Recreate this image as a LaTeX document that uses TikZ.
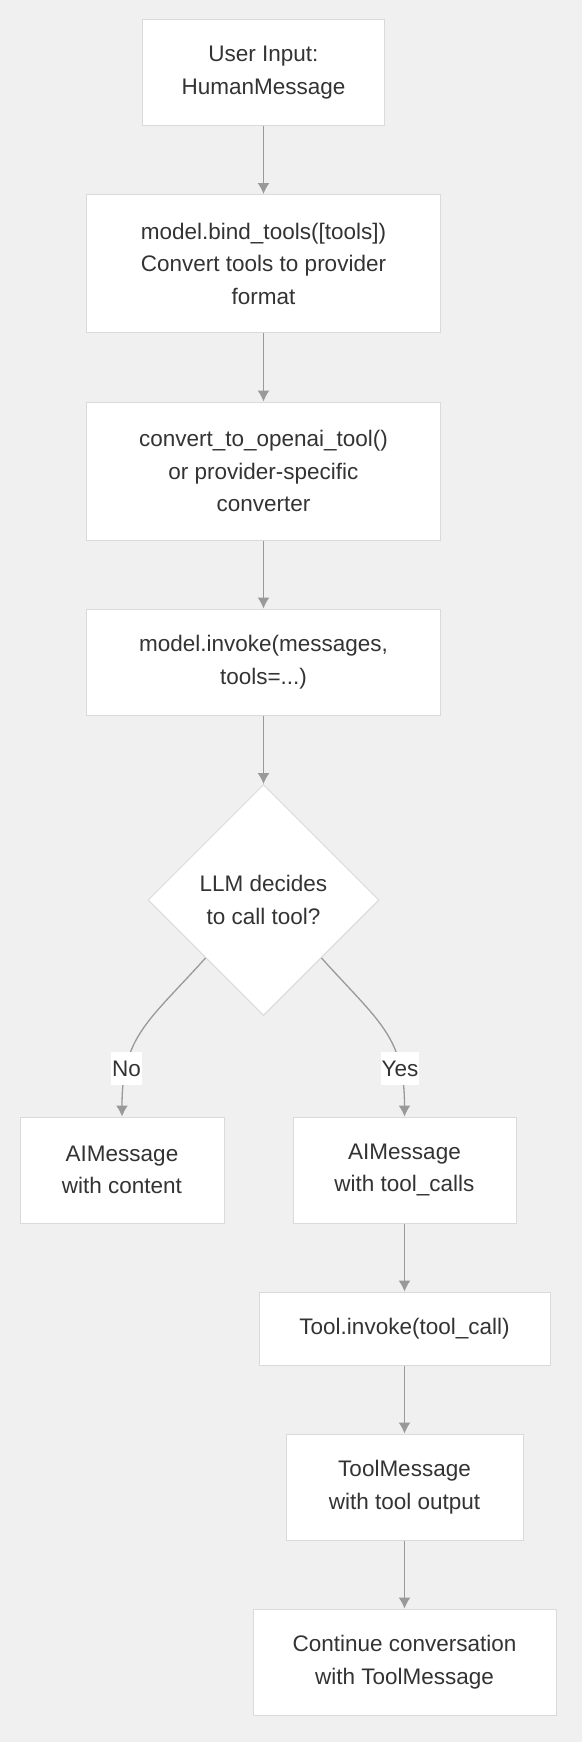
\documentclass[tikz,border=0pt]{standalone}
\usepackage{fontspec}
\setmainfont{Liberation Sans}
\usetikzlibrary{arrows.meta}
\usetikzlibrary{shapes.geometric}
\definecolor{bgcol}{RGB}{240,240,240}
\definecolor{boxline}{RGB}{218,218,218}
\definecolor{flowcol}{RGB}{153,153,153}
\definecolor{txtcol}{RGB}{51,51,51}
\tikzset{basic/.style={draw=boxline,fill=white,line width=1pt,text=txtcol,
                       align=center,inner sep=0pt,font=\fontsize{22.5}{32.5}\selectfont}}
\tikzset{stepbox/.style={basic,rectangle}}
\tikzset{choice/.style={basic,diamond,minimum width=231pt,minimum height=231pt}}

\begin{document}
\begin{tikzpicture}[x=1pt,y=-1pt]
  \useasboundingbox[fill=bgcol] (0,0) rectangle (582,1742);

  \tikzstyle{flow}=[draw=flowcol, line width=1.3pt, -{Latex[length=11pt,width=12pt]}];
  \tikzstyle{answer}=[fill=white, text=txtcol, inner xsep=1pt, inner ysep=0pt, minimum height=33pt, font=\fontsize{22.5}{32.5}\selectfont];

  \node (user_input) at (263.5, 72.5) [stepbox, minimum width=242pt, minimum height=106pt]{User Input:\\HumanMessage};
  \node (bind_tools) at (263.5, 263.5) [stepbox, minimum width=354pt, minimum height=138pt]{model.bind\_tools([tools])\\Convert tools to provider\\format};
  \node (convert_tools) at (263.5, 471) [stepbox, minimum width=354pt, minimum height=138pt]{convert\_to\_openai\_tool()\\or provider-specific\\converter};
  \node (invoke_model) at (263.5, 662) [stepbox, minimum width=354pt, minimum height=106pt]{model.invoke(messages,\\tools=...)};

  \node (decision) at (263.5, 900) [choice]{LLM decides\\to call tool?};

  \node (plain_reply) at (122, 1170) [stepbox, minimum width=204pt, minimum height=106pt]{AIMessage\\with content};
  \node (tool_reply) at (404.5, 1170) [stepbox, minimum width=223pt, minimum height=106pt]{AIMessage\\with tool\_calls};
  \node (tool_invoke) at (404.5, 1328.5) [stepbox, minimum width=291pt, minimum height=73pt]{Tool.invoke(tool\_call)};
  \node (tool_message) at (404.5, 1487) [stepbox, minimum width=237pt, minimum height=106pt]{ToolMessage\\with tool output};
  \node (continue_chat) at (404.5, 1662) [stepbox, minimum width=303pt, minimum height=106pt]{Continue conversation\\with ToolMessage};

  \draw[flow] (user_input) -- (bind_tools);
  \draw[flow] (bind_tools) -- (convert_tools);
  \draw[flow] (convert_tools) -- (invoke_model);
  \draw[flow] (invoke_model) -- (decision);

  \draw[flow] (decision.south west) to[out=-132, in=90, out distance=86pt, in distance=80pt] node[answer, pos=0.76]{No} (plain_reply);
  \draw[flow] (decision.south east) to[out=-48, in=90, out distance=86pt, in distance=80pt] node[answer, pos=0.76]{Yes} (tool_reply);

  \draw[flow] (tool_reply) -- (tool_invoke);
  \draw[flow] (tool_invoke) -- (tool_message);
  \draw[flow] (tool_message) -- (continue_chat);
\end{tikzpicture}
\end{document}
